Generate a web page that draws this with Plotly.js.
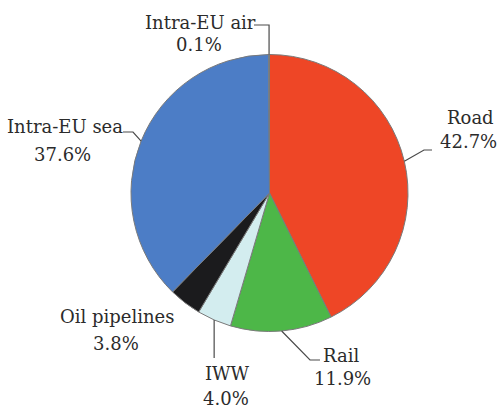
<!DOCTYPE html>
<html>
<head>
<meta charset="utf-8">
<script src="https://cdn.plot.ly/plotly-3.0.1.min.js"></script>
<style>
  html, body { margin: 0; padding: 0; background: #ffffff; }
  #chart { width: 501px; height: 407px; }
</style>
</head>
<body>
<div id="chart"></div>
<script>
// Modal split of freight transport (share of tonne-km)
const modes  = ['Road', 'Rail', 'IWW', 'Oil pipelines', 'Intra-EU sea', 'Intra-EU air'];
const shares = [42.7, 11.9, 4.0, 3.8, 37.6, 0.1];
const sliceColors = ['#EE4626', '#4DB748', '#D3EDEF', '#1B1B1D', '#4C7DC6', '#8FA9D6'];

// Page size and pie placement (pixels)
const W = 501, H = 407;
const CX = 269.5, CY = 193, R = 138.5;

// Label placement: centre x of the two text lines and their vertical centres
const labelPos = {
  'Road':          {x1: 470, x2: 468, y1: 117, y2: 141},
  'Rail':          {x1: 341, x2: 342, y1: 355, y2: 378},
  'IWW':           {x1: 227, x2: 226, y1: 373, y2: 398},
  'Oil pipelines': {x1: 117, x2: 116, y1: 316, y2: 343},
  'Intra-EU sea':  {x1: 65,  x2: 62,  y1: 126, y2: 154},
  'Intra-EU air':  {x1: 200, x2: 199, y1: 23,  y2: 45}
};

// Leader-line routes: intermediate points after the slice edge point (pixels)
const leaderRoute = {
  'Road':         [[424, 150], [432, 150]],
  'Rail':         [[310, 360], [320, 360]],
  'IWW':          [[null, 358]],
  'Intra-EU sea': [[133, 132], [123, 132]],
  'Intra-EU air': [[null, 25], [254, 25]]
};

const px = x => x / W;
const py = y => 1 - y / H;

// mid-angle of every slice (clockwise from 12 o'clock), from the data
const total = shares.reduce((a, b) => a + b, 0);
let cum = 0;
const edgePts = {};
modes.forEach((m, i) => {
  const mid = (cum + shares[i] / 2) / total * 2 * Math.PI;
  cum += shares[i];
  edgePts[m] = [CX + R * Math.sin(mid), CY - R * Math.cos(mid)];
});

const shapes = [];
Object.keys(leaderRoute).forEach(m => {
  const start = edgePts[m];
  const pts = [start];
  leaderRoute[m].forEach(p => {
    pts.push([p[0] === null ? start[0] : p[0], p[1]]);
  });
  const d = pts.map((p, k) => (k ? 'L' : 'M') + px(p[0]).toFixed(5) + ',' + py(p[1]).toFixed(5)).join(' ');
  shapes.push({
    type: 'path', xref: 'paper', yref: 'paper', path: d,
    line: {color: '#4a4a4a', width: 1.2}
  });
});

const serif = 'DejaVu Serif';
const labelFont = {family: serif, size: 18, color: '#2b2b2b'};
const annotations = [];
modes.forEach((m, i) => {
  const p = labelPos[m];
  annotations.push({
    xref: 'paper', yref: 'paper', x: px(p.x1), y: py(p.y1),
    xanchor: 'center', yanchor: 'middle', showarrow: false,
    text: m, font: labelFont
  });
  annotations.push({
    xref: 'paper', yref: 'paper', x: px(p.x2), y: py(p.y2),
    xanchor: 'center', yanchor: 'middle', showarrow: false,
    text: shares[i].toFixed(1) + '%', font: labelFont
  });
});

const trace = {
  type: 'pie',
  labels: modes,
  values: shares,
  sort: false,
  direction: 'clockwise',
  rotation: 0,
  textinfo: 'none',
  hoverinfo: 'label+percent',
  marker: {colors: sliceColors, line: {color: '#7a7a7a', width: 1}},
  domain: {x: [px(CX - R), px(CX + R)], y: [py(CY + R), py(CY - R)]},
  showlegend: false
};

const layout = {
  width: W, height: H,
  margin: {l: 0, r: 0, t: 0, b: 0},
  font: {family: serif, size: 18, color: '#2b2b2b'},
  paper_bgcolor: '#ffffff',
  plot_bgcolor: '#ffffff',
  showlegend: false,
  shapes: shapes,
  annotations: annotations
};

Plotly.newPlot('chart', [trace], layout, {displayModeBar: false, staticPlot: true});
</script>
</body>
</html>
